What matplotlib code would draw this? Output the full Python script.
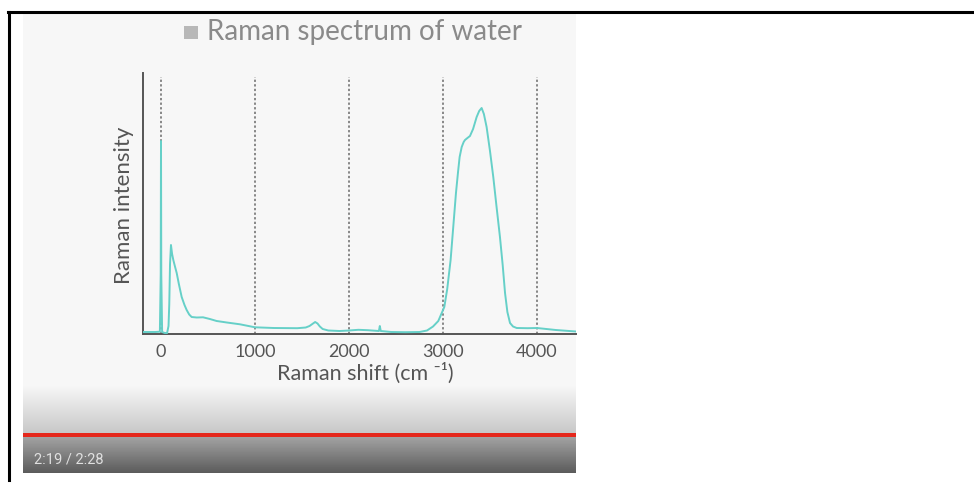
import numpy as np
import matplotlib
matplotlib.use("Agg")
import matplotlib.pyplot as plt
from matplotlib.patches import Rectangle
from matplotlib.lines import Line2D

# ---------------- data ----------------
raman_shift = [-191, -60, -12, -3, 0, 3, 12, 40, 65, 80, 88, 96, 106, 118, 131,
               150, 167, 190, 220, 250, 273, 300, 326, 380, 447, 520, 592, 700,
               840, 1000, 1200, 1450, 1540, 1580, 1610, 1640, 1665, 1690, 1720,
               1780, 1900, 2000, 2100, 2200, 2318, 2328, 2338, 2450, 2600, 2750,
               2830, 2894, 2950, 3014, 3045, 3081, 3110, 3138, 3160, 3177, 3199,
               3220, 3234, 3260, 3287, 3320, 3358, 3385, 3411, 3435, 3464, 3500,
               3535, 3570, 3606, 3635, 3660, 3685, 3713, 3745, 3784, 3900, 4000,
               4200, 4415]
intensity = [2.0, 2.0, 2.3, 60, 193, 60, 2.0, 1.0, 1.0, 8, 30, 70, 89, 80, 74,
             67, 61, 50, 37, 29, 24, 19.5, 17, 16.5, 16.7, 15, 13, 11.5,
             9.7, 6.7, 6.0, 5.8, 6.5, 8.0, 10, 12, 10.5, 7.5, 5.0,
             3.5, 3.0, 3.5, 4.2, 3.8, 3.0, 8.0, 3.0, 2.0, 1.8, 2.0,
             3.5, 7.5, 13, 27, 45, 74, 108, 141, 162, 177, 187,
             192, 194, 196, 198, 205, 217, 223, 226, 220, 207, 183,
             157, 127, 97, 69, 41, 22, 11, 7.5, 6.0, 5.8, 6.0,
             4.0, 2.5]
xticks = [0, 1000, 2000, 3000, 4000]
xtick_labels = ["0", "1000", "2000", "3000", "4000"]
title = "Raman spectrum of water"
xlabel = "Raman shift (cm \u207b\u00b9)"
ylabel = "Raman intensity"
timestamp = "2:19 / 2:28"

# ---------------- figure ----------------
W, H = 974, 493
fig = plt.figure(figsize=(W / 100, H / 100), dpi=100, facecolor="white")

def fx(px):
    return px / W

def fy(py):
    return 1 - py / H

FONT = ["Lato", "DejaVu Sans"]

# video frame background with gradient
vx0, vx1, vy0, vy1 = 23, 576, 13, 473
bg = fig.add_axes([fx(vx0), fy(vy1), fx(vx1) - fx(vx0), fy(vy0) - fy(vy1)])
rows = np.arange(vy0, vy1)
col = np.zeros((len(rows), 1, 3))
def hexrgb(h):
    return np.array([int(h[i:i + 2], 16) / 255 for i in (1, 3, 5)])
c_bg, c_g1, c_red, c_d0, c_d1 = (hexrgb("#f7f7f7"), hexrgb("#c8c8c8"),
                                  hexrgb("#e5281c"), hexrgb("#a2a2a2"), hexrgb("#5a5a5a"))
for i, r in enumerate(rows):
    if r < 385:
        c = c_bg
    elif r < 433:
        t = (r - 385) / (433 - 385)
        c = c_bg * (1 - t) + c_g1 * t
    elif r < 437:
        c = c_red
    else:
        t = (r - 437) / (vy1 - 437)
        c = c_d0 * (1 - t) + c_d1 * t
    col[i, 0] = c
bg.imshow(col, aspect="auto", extent=[0, 1, 0, 1], interpolation="nearest")
bg.set_axis_off()
bg.set_zorder(0)

# black border lines of the screenshot
fig.add_artist(Line2D([fx(8), fx(974)], [fy(12), fy(12)], color="black", lw=2.2))
fig.add_artist(Line2D([fx(9), fx(9)], [fy(12), fy(480)], color="black", lw=2.2))

# main axes
ax = fig.add_axes([fx(143), fy(334), fx(576) - fx(143), fy(73) - fy(334)])
ax.set_zorder(2)
ax.patch.set_visible(False)
ax.set_xlim(-191.5, 4415)
ax.set_ylim(0, 261)
for x in xticks:
    ax.plot([x, x], [0, 257], color="#6a6a6a", lw=1.1, ls=(0, (1.5, 1.5)), zorder=1)
ax.plot(raman_shift, intensity, color="#66d0c8", lw=1.4, zorder=3,
        solid_joinstyle="round", antialiased=True)
for s in ["top", "right"]:
    ax.spines[s].set_visible(False)
for s in ["left", "bottom"]:
    ax.spines[s].set_color("#555555")
    ax.spines[s].set_linewidth(1.4)
ax.set_xticks(xticks)
ax.set_xticklabels(xtick_labels, family=FONT, fontsize=13, color="#555555")
ax.set_yticks([])
ax.tick_params(axis="x", length=0, pad=7)

fig.text(fx(365), fy(380), xlabel, ha="center", va="baseline", family=FONT,
         fontsize=15.5, color="#555555")
fig.text(fx(124), fy(205), ylabel, ha="center", va="center", rotation=90,
         family=FONT, fontsize=16, color="#555555")

# title with square marker
fig.add_artist(Rectangle((fx(184), fy(39)), fx(198) - fx(184), fy(26) - fy(39),
                         facecolor="#b8b8b8", edgecolor="none"))
fig.text(fx(207), fy(40), title, ha="left", va="baseline", family=FONT,
         fontsize=20, color="#8a8a8a")

# video timestamp
fig.text(fx(34), fy(464), timestamp, ha="left", va="baseline",
         family=["Roboto", "DejaVu Sans"], fontsize=10.5, color="#e0e0e0")

fig.savefig("out.png", dpi=100, facecolor="white")
